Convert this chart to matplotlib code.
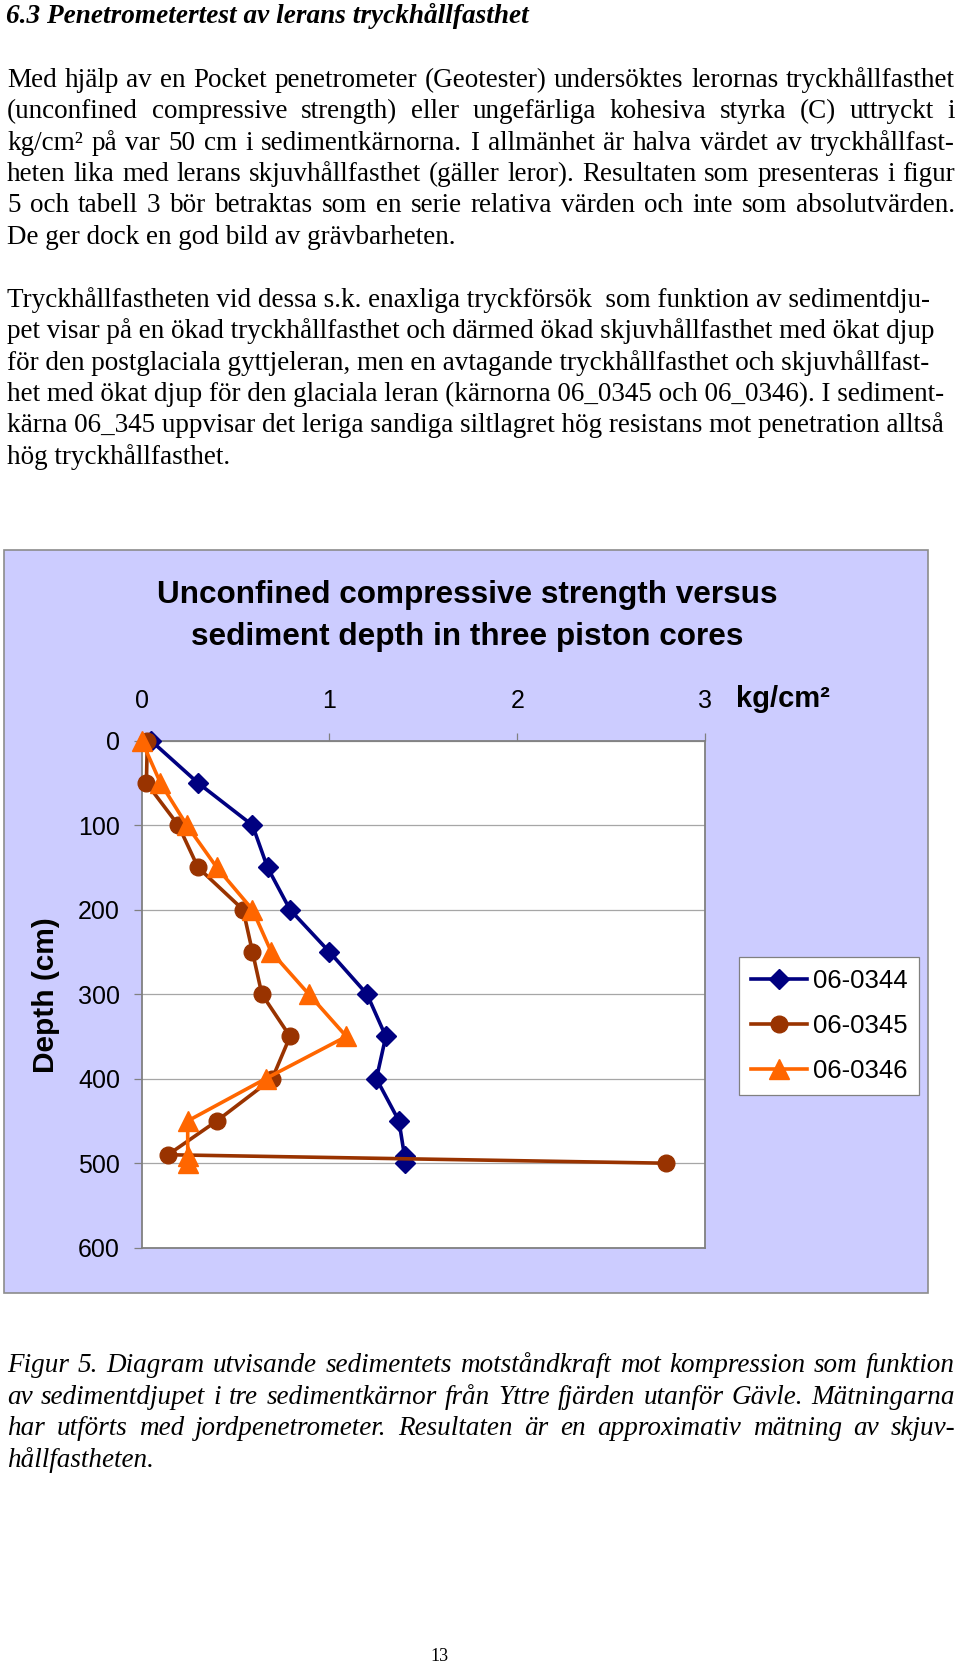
import matplotlib
matplotlib.use("Agg")
import matplotlib.pyplot as plt
from matplotlib.patches import Rectangle

# sidans storlek i pixlar
W, H = 960, 1667

# data (kg/cm2 mot djup i cm)
depth_0344 = [0, 50, 100, 150, 200, 250, 300, 350, 400, 450, 492, 500]
kg_0344 = [0.05, 0.30, 0.59, 0.67, 0.79, 1.00, 1.20, 1.30, 1.25, 1.37, 1.40, 1.40]
depth_0345 = [0, 50, 100, 150, 200, 250, 300, 350, 400, 450, 490, 500]
kg_0345 = [0.03, 0.025, 0.195, 0.30, 0.54, 0.59, 0.64, 0.79, 0.695, 0.40, 0.14, 2.79]
depth_0346 = [0, 50, 100, 150, 200, 250, 300, 350, 400, 450, 492, 500]
kg_0346 = [0.0, 0.10, 0.24, 0.40, 0.59, 0.69, 0.89, 1.09, 0.66, 0.245, 0.245, 0.245]

x_ticks = [0, 1, 2, 3]
y_ticks = [0, 100, 200, 300, 400, 500, 600]

heading = "6.3 Penetrometertest av lerans tryckhållfasthet"
para1 = [
    "Med hjälp av en Pocket penetrometer (Geotester) undersöktes lerornas tryckhållfasthet",
    "(unconfined compressive strength) eller ungefärliga kohesiva styrka (C) uttryckt i",
    "kg/cm² på var 50 cm i sedimentkärnorna. I allmänhet är halva värdet av tryckhållfast-",
    "heten lika med lerans skjuvhållfasthet (gäller leror). Resultaten som presenteras i figur",
    "5 och tabell 3 bör betraktas som en serie relativa värden och inte som absolutvärden.",
    "De ger dock en god bild av grävbarheten.",
]
para2 = [
    "Tryckhållfastheten vid dessa s.k. enaxliga tryckförsök  som funktion av sedimentdju-",
    "pet visar på en ökad tryckhållfasthet och därmed ökad skjuvhållfasthet med ökat djup",
    "för den postglaciala gyttjeleran, men en avtagande tryckhållfasthet och skjuvhållfast-",
    "het med ökat djup för den glaciala leran (kärnorna 06_0345 och 06_0346). I sediment-",
    "kärna 06_345 uppvisar det leriga sandiga siltlagret hög resistans mot penetration alltså",
    "hög tryckhållfasthet.",
]
caption = [
    "Figur 5. Diagram utvisande sedimentets motståndkraft mot kompression som funktion",
    "av sedimentdjupet i tre sedimentkärnor från Yttre fjärden utanför Gävle. Mätningarna",
    "har utförts med jordpenetrometer. Resultaten är en approximativ mätning av skjuv-",
    "hållfastheten.",
]

plt.rcParams['font.family'] = ['Liberation Sans', 'DejaVu Sans']

fig = plt.figure(figsize=(W / 100, H / 100), dpi=100)
fig.patch.set_facecolor('white')
renderer = fig.canvas.get_renderer()


def fx(px):
    return px / W


def fy(py):
    return 1 - py / H


def put_line(text, y, x0, x1, justify, **kw):
    # y är textradens baslinje i pixlar
    if not justify:
        fig.text(fx(x0), fy(y), text, ha='left', va='baseline', **kw)
        return
    words = text.split()
    objs = [fig.text(0, fy(y), w, ha='left', va='baseline', **kw) for w in words]
    widths = [t.get_window_extent(renderer).width for t in objs]
    gap = (x1 - x0 - sum(widths)) / (len(words) - 1)
    x = x0
    for t, w in zip(objs, widths):
        t.set_x(fx(x))
        x += w + gap


body = dict(family=['Liberation Serif', 'DejaVu Serif'], size=19.5)
base = 7  # avstånd från radens mitt ner till baslinjen

# rubrik och brödtext
fig.text(fx(6), fy(16 + base), heading, ha='left', va='baseline', family='Liberation Serif',
         size=19.6, weight='bold', style='italic')
for i, line in enumerate(para1):
    put_line(line, 80 + base + i * 31.3, 7, 955, i < len(para1) - 1, **body)
for i, line in enumerate(para2):
    put_line(line, 300 + base + i * 31.3, 7, 955, False, **body)
for i, line in enumerate(caption):
    put_line(line, 1365 + base + i * 31.6, 7, 955, i < len(caption) - 1, style='italic', **body)
fig.text(fx(439), fy(1656), "13", ha='center', va='center', family='Liberation Serif', size=13)

# diagrammets bakgrund
bg = Rectangle((fx(4), fy(1293)), (928 - 4) / W, (1293 - 550) / H, transform=fig.transFigure,
               facecolor='#CCCCFF', edgecolor='#8c8c8c', lw=1.2, zorder=-1)
fig.add_artist(bg)

ax = fig.add_axes([fx(141.7), fy(1247.7), (705 - 141.7) / W, (1247.7 - 740.7) / H])
ax.set_facecolor('white')
ax.plot(kg_0344, depth_0344, color='#000080', marker='D', ms=10.5, lw=2.6,
        label='06-0344', clip_on=False, zorder=3)
ax.plot(kg_0345, depth_0345, color='#993300', marker='o', ms=12, lw=2.6,
        label='06-0345', clip_on=False, zorder=4)
ax.plot(kg_0346, depth_0346, color='#FF6600', marker='^', ms=14, lw=2.6,
        label='06-0346', clip_on=False, zorder=5)

ax.set_xlim(0, 3)
ax.set_ylim(600, 0)
ax.xaxis.tick_top()
ax.set_xticks(x_ticks)
ax.set_yticks(y_ticks)
ax.grid(axis='y', color='#a6a6a6', lw=0.9)
ax.tick_params(axis='x', direction='out', length=6, width=0.9, color='#808080',
               pad=14, labelsize=18)
ax.tick_params(axis='y', direction='out', length=6, width=0.9, color='#808080',
               pad=9.6, labelsize=18)
for s in ax.spines.values():
    s.set_color('#808080')
    s.set_linewidth(1.3)

fig.text(fx(467), fy(616), "Unconfined compressive strength versus\nsediment depth in three piston cores",
         ha='center', va='center', size=22.7, weight='bold', linespacing=1.5)
fig.text(fx(735.7), fy(699), "kg/cm²", ha='left', va='center', size=21, weight='bold')
fig.text(fx(46), fy(995), "Depth (cm)", ha='center', va='center', size=21.5,
         weight='bold', rotation=90)

leg = ax.legend(loc='upper left', bbox_to_anchor=(fx(739.3), fy(957.5)),
                bbox_transform=fig.transFigure, borderaxespad=0, fontsize=18.5,
                frameon=True, fancybox=False, edgecolor='#808080', framealpha=1,
                handlelength=2.2, handletextpad=0.2, labelspacing=0.82, borderpad=0.45)
leg.get_frame().set_linewidth(0.9)

fig.savefig('out.png', dpi=100, facecolor='white')
